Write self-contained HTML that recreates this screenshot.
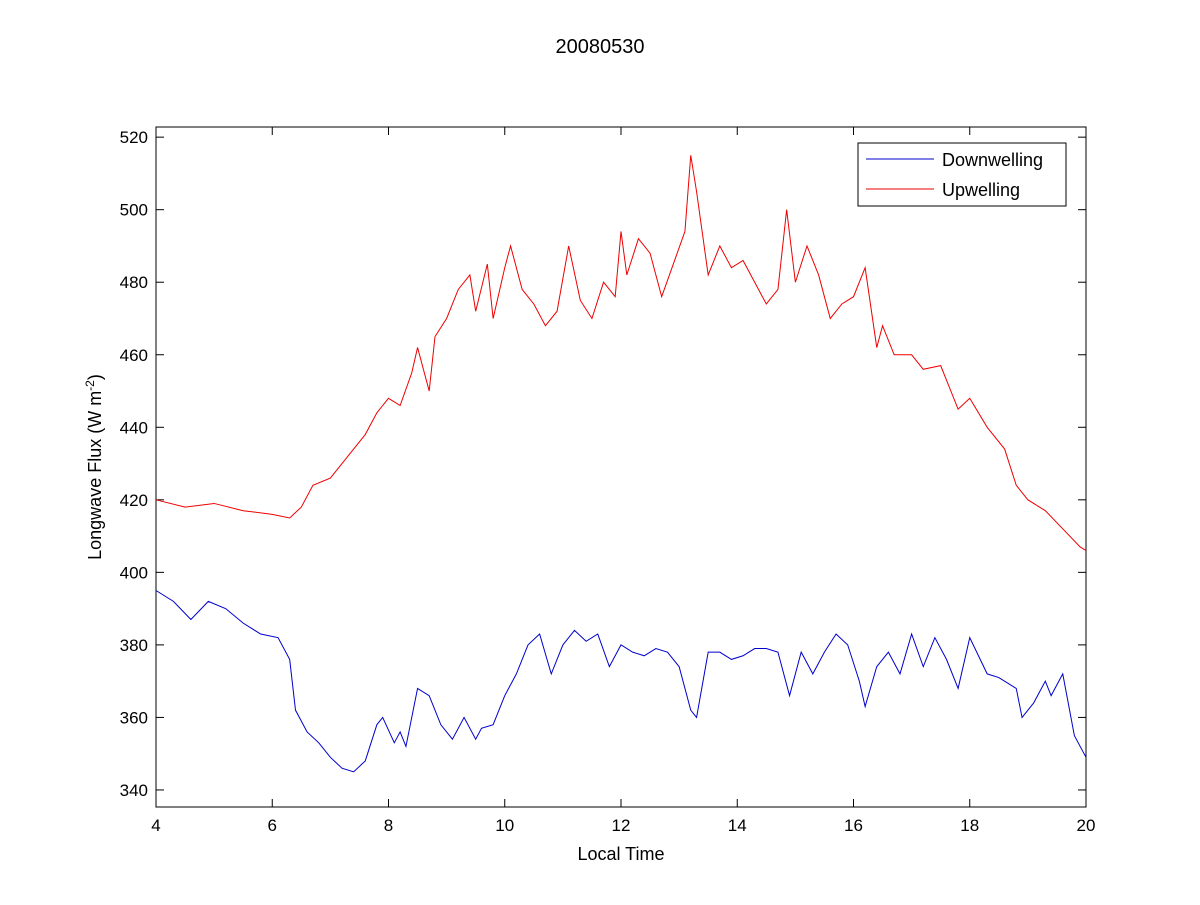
<!DOCTYPE html>
<html><head><meta charset="utf-8"><style>
body{margin:0;background:#fff;}
svg text{font-family:"Liberation Sans",sans-serif;}
</style></head><body>
<svg id="chart" width="1200" height="900">
<rect width="1200" height="900" fill="#fff"/>
<text x="600" y="53" font-size="20" text-anchor="middle">20080530</text>
<g id="plot"></g>
<text x="621" y="860" font-size="18" text-anchor="middle">Local Time</text>
<text transform="translate(101,467) rotate(-90)" font-size="18" text-anchor="middle">Longwave Flux (W m<tspan dy="-7" font-size="12">-2</tspan><tspan dy="7">)</tspan></text>
<g>
<rect x="858" y="143" width="208" height="63" fill="#fff" stroke="#000" stroke-width="1"/>
<line x1="866" y1="159" x2="934" y2="159" stroke="#0000cc"/>
<text x="942" y="166" font-size="18">Downwelling</text>
<line x1="866" y1="189" x2="934" y2="189" stroke="#ee0000"/>
<text x="942" y="196" font-size="18">Upwelling</text>
</g>
</svg>
<script>
const upTimes=[4,4.5,5,5.5,6,6.3,6.5,6.7,7,7.3,7.6,7.8,8,8.2,8.4,8.5,8.7,8.8,9,9.2,9.4,9.5,9.7,9.8,10,10.1,10.3,10.5,10.7,10.9,11.1,11.3,11.5,11.7,11.9,12,12.1,12.3,12.5,12.7,12.9,13.1,13.2,13.3,13.5,13.7,13.9,14.1,14.3,14.5,14.7,14.85,15,15.2,15.4,15.6,15.8,16,16.2,16.4,16.5,16.7,17,17.2,17.5,17.8,18,18.3,18.6,18.8,19,19.3,19.6,19.9,20];
const upValues=[420,418,419,417,416,415,418,424,426,432,438,444,448,446,455,462,450,465,470,478,482,472,485,470,484,490,478,474,468,472,490,475,470,480,476,494,482,492,488,476,485,494,515,505,482,490,484,486,480,474,478,500,480,490,482,470,474,476,484,462,468,460,460,456,457,445,448,440,434,424,420,417,412,407,406];
const downTimes=[4,4.3,4.6,4.9,5.2,5.5,5.8,6.1,6.3,6.4,6.6,6.8,7,7.2,7.4,7.6,7.8,7.9,8.1,8.2,8.3,8.5,8.7,8.9,9.1,9.3,9.5,9.6,9.8,10,10.2,10.4,10.6,10.8,11,11.2,11.4,11.6,11.8,12,12.2,12.4,12.6,12.8,13,13.2,13.3,13.5,13.7,13.9,14.1,14.3,14.5,14.7,14.9,15.1,15.3,15.5,15.7,15.9,16.1,16.2,16.4,16.6,16.8,17,17.2,17.4,17.6,17.8,18,18.3,18.5,18.8,18.9,19.1,19.3,19.4,19.6,19.8,20];
const downValues=[395,392,387,392,390,386,383,382,376,362,356,353,349,346,345,348,358,360,353,356,352,368,366,358,354,360,354,357,358,366,372,380,383,372,380,384,381,383,374,380,378,377,379,378,374,362,360,378,378,376,377,379,379,378,366,378,372,378,383,380,370,363,374,378,372,383,374,382,376,368,382,372,371,368,360,364,370,366,372,355,349];
const xTicks=[4,6,8,10,12,14,16,18,20];
const yTicks=[340,360,380,400,420,440,460,480,500,520];

const L=156,R=1086,T=127,B=807,xMin=4,xMax=20,yMin=335.3,yMax=522.8;
const xs=v=>L+(v-xMin)/(xMax-xMin)*(R-L);
const ys=v=>B-(v-yMin)/(yMax-yMin)*(B-T);
const NS="http://www.w3.org/2000/svg";
const g=document.getElementById('plot');
function mk(tag,attrs){const e=document.createElementNS(NS,tag);for(const k in attrs)e.setAttribute(k,attrs[k]);g.appendChild(e);return e;}
const box=mk('rect',{x:L,y:T,width:R-L,height:B-T,fill:'#fff',stroke:'#000','stroke-width':1});


xTicks.forEach(t=>{
  const x=xs(t);
  mk('line',{x1:x,y1:B,x2:x,y2:B-8,stroke:'#000'});
  mk('line',{x1:x,y1:T,x2:x,y2:T+8,stroke:'#000'});
  const tx=mk('text',{x:x,y:B+24,'font-size':17,'text-anchor':'middle'});
  tx.textContent=t;
  
  
});
yTicks.forEach(t=>{
  const y=ys(t);
  mk('line',{x1:L,y1:y,x2:L+8,y2:y,stroke:'#000'});
  mk('line',{x1:R,y1:y,x2:R-8,y2:y,stroke:'#000'});
  const tx=mk('text',{x:L-8,y:y+6,'font-size':17,'text-anchor':'end'});
  tx.textContent=t;
  
  
});
function line(ts,vs,color){
  return mk('polyline',{points:ts.map((t,i)=>xs(t)+','+ys(vs[i])).join(' '),fill:'none',stroke:color,'stroke-width':1});
}
const dl=line(downTimes,downValues,'#0000cc');


const ul=line(upTimes,upValues,'#ee0000');


</script>
</body></html>
